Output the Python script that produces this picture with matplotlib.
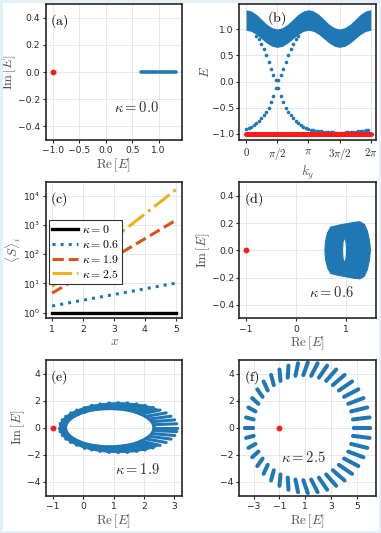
import matplotlib
matplotlib.use("Agg")
import matplotlib.pyplot as plt
from matplotlib.path import Path
from matplotlib.patches import PathPatch, Rectangle
from matplotlib.font_manager import FontProperties
from matplotlib.ticker import NullLocator

# ---- data ----
# (a) kappa = 0 spectrum
a_red_re = [-1.0]
a_red_im = [0.0]
a_band_re = [0.66, 1.32]
a_band_im = [0.0, 0.0]

# (b) E vs k_y : bulk band edges
b_k = [0.000, 0.262, 0.524, 0.785, 1.047, 1.309, 1.571, 1.833, 2.094, 2.356, 2.618, 2.880, 3.142,
       3.403, 3.665, 3.927, 4.189, 4.451, 4.712, 4.974, 5.236, 5.498, 5.760, 6.021, 6.283]
b_top = [1.38, 1.355, 1.29, 1.195, 1.10, 1.035, 1.01, 1.035, 1.10, 1.195, 1.29, 1.355, 1.38,
         1.355, 1.29, 1.195, 1.10, 1.035, 1.01, 1.035, 1.10, 1.195, 1.29, 1.355, 1.38]
b_bot = [0.985, 0.963, 0.905, 0.82, 0.737, 0.677, 0.655, 0.677, 0.737, 0.82, 0.905, 0.963, 0.985,
         0.963, 0.905, 0.82, 0.737, 0.677, 0.655, 0.677, 0.737, 0.82, 0.905, 0.963, 0.985]
# edge states
b_edge_k1 = [0.000, 0.126, 0.251, 0.377, 0.503, 0.628, 0.754, 0.880, 1.005, 1.131, 1.257, 1.382, 1.508]
b_edge_E1 = [-0.92, -0.90, -0.87, -0.84, -0.80, -0.76, -0.71, -0.65, -0.58, -0.50, -0.40, -0.28, -0.13]
b_edge_k2 = [0.503, 0.628, 0.754, 0.880, 1.005, 1.131, 1.257, 1.382, 1.508]
b_edge_E2 = [0.88, 0.81, 0.72, 0.62, 0.50, 0.37, 0.24, 0.12, 0.03]
b_edge_k3 = [1.634, 1.759, 1.885, 2.011, 2.136, 2.262, 2.388, 2.513, 2.639, 2.765, 2.890, 3.016, 3.142]
b_edge_E3 = [-0.13, -0.28, -0.40, -0.50, -0.58, -0.65, -0.71, -0.76, -0.80, -0.84, -0.87, -0.90, -0.92]
b_edge_k4 = [1.634, 1.759, 1.885, 2.011, 2.136, 2.262, 2.388, 2.513, 2.639]
b_edge_E4 = [0.03, 0.12, 0.24, 0.37, 0.50, 0.62, 0.72, 0.81, 0.88]
b_edge_k5 = [3.267, 3.393, 3.519, 3.644, 3.770, 3.896, 4.021, 4.147, 4.273, 4.398, 4.524, 4.650,
             4.775, 4.901, 5.027, 5.152, 5.278, 5.404, 5.529, 5.655, 5.781, 5.906, 6.032, 6.158]
b_edge_E5 = [-0.93, -0.94, -0.95, -0.955, -0.96, -0.965, -0.97, -0.975, -0.98, -0.98, -0.985, -0.985,
             -0.985, -0.985, -0.98, -0.98, -0.975, -0.97, -0.965, -0.96, -0.955, -0.95, -0.94, -0.93]
b_red_k = [0.0, 6.283]
b_red_E = [-1.0, -1.0]

# (c) <S>_i vs x
c_x = [1, 2, 3, 4, 5]
c_kappa0 = [1, 1, 1, 1, 1]
c_kappa06 = [1.7, 2.7, 4.2, 6.6, 10.3]
c_kappa19 = [4.7, 19.5, 80, 340, 1450]
c_kappa25 = [7.9, 53, 355, 2380, 16000]

# (d) kappa = 0.6 spectrum outline and its hole
d_outer_re = [0.69, 0.85, 1.00, 1.15, 1.27, 1.36, 1.42, 1.46, 1.48, 1.46, 1.42, 1.36, 1.27, 1.15,
              1.00, 0.85, 0.69, 0.63, 0.59, 0.575, 0.59, 0.63]
d_outer_im = [0.17, 0.185, 0.195, 0.205, 0.21, 0.19, 0.14, 0.07, 0.0, -0.07, -0.14, -0.19, -0.21, -0.205,
              -0.195, -0.185, -0.17, -0.13, -0.07, 0.0, 0.07, 0.13]
d_hole_re = [0.965, 0.935, 0.925, 0.935, 0.965, 0.995, 1.005, 0.995]
d_hole_im = [0.095, 0.06, 0.0, -0.06, -0.095, -0.06, 0.0, 0.06]

# (e) kappa = 1.9 : stripes (upper half, mirrored about Im E = 0)
e_in_re = [2.33, 2.31, 2.26, 2.17, 2.05, 1.90, 1.73, 1.54, 1.33, 1.10, 0.875, 0.65, 0.43, 0.21,
           0.02, -0.15, -0.30, -0.42, -0.51, -0.56, -0.58]
e_in_im = [0, 0.22, 0.44, 0.64, 0.83, 1.00, 1.15, 1.27, 1.35, 1.40, 1.42, 1.40, 1.35, 1.27,
           1.15, 1.00, 0.83, 0.64, 0.44, 0.22, 0]
e_out_re = [3.10, 3.08, 3.01, 2.89, 2.73, 2.53, 2.30, 2.04, 1.76, 1.46, 1.16, 0.86, 0.56, 0.28,
            0.02, -0.21, -0.41, -0.57, -0.69, -0.76, -0.78]
e_out_im = [0, 0.29, 0.58, 0.85, 1.10, 1.31, 1.51, 1.66, 1.77, 1.84, 1.86, 1.84, 1.77, 1.66,
            1.51, 1.31, 1.10, 0.85, 0.58, 0.29, 0]
# from this stripe on the band is closed (no gaps between stripes)
e_solid_from = 5

# (f) kappa = 2.5 : stripes (upper half, mirrored about Im E = 0)
f_in_re = [4.75, 4.70, 4.56, 4.33, 4.01, 3.61, 3.14, 2.62, 2.06, 1.46, 0.85, 0.24, -0.36, -0.92,
           -1.44, -1.91, -2.31, -2.63, -2.86, -3.00, -3.05]
f_in_im = [0, 0.61, 1.21, 1.77, 2.29, 2.76, 3.16, 3.47, 3.71, 3.85, 3.9, 3.85, 3.71, 3.47,
           3.16, 2.76, 2.29, 1.77, 1.21, 0.61, 0]
f_out_re = [6.05, 5.99, 5.81, 5.52, 5.12, 4.63, 4.05, 3.40, 2.70, 1.96, 1.2, 0.44, -0.30, -1.00,
            -1.65, -2.23, -2.72, -3.12, -3.41, -3.59, -3.65]
f_out_im = [0, 0.76, 1.50, 2.20, 2.85, 3.43, 3.92, 4.32, 4.61, 4.79, 4.85, 4.79, 4.61, 4.32,
            3.92, 3.43, 2.85, 2.20, 1.50, 0.76, 0]

# ---- style ----
BLUE = "#1f77b4"
RED = "#ff1a1a"
LABEL_COL = "#555555"

plt.rcParams.update({
    "font.family": "DejaVu Sans",
    "font.size": 6.6,
    "mathtext.fontset": "dejavusans",
    "axes.edgecolor": "#262626",
    "axes.linewidth": 1.2,
    "xtick.labelsize": 6.6,
    "ytick.labelsize": 6.6,
    "xtick.color": "#262626",
    "ytick.color": "#262626",
    "xtick.major.size": 2.5,
    "ytick.major.size": 2.5,
    "xtick.major.pad": 2,
    "ytick.major.pad": 1.5,
})

fig = plt.figure(figsize=(3.81, 5.33), dpi=100)
fig.patches.append(Rectangle((0, 0), 1, 1, transform=fig.transFigure, fill=False,
                             edgecolor="#e3f0f8", lw=3.5))

cols = [0.1207, 0.6286]
rows = [0.7373, 0.4028, 0.0700]
W, H = 0.357, 0.2552


def make_ax(c, r):
    ax = fig.add_axes([cols[c], rows[r], W, H])
    ax.grid(True, color="#e8e8e8", lw=0.7)
    ax.set_axisbelow(True)
    return ax


def labels(ax, xl=None, yl=None):
    if xl:
        ax.set_xlabel(xl, fontsize=9.5, color=LABEL_COL, math_fontfamily="cm", labelpad=1)
    if yl:
        ax.set_ylabel(yl, fontsize=9.5, color=LABEL_COL, math_fontfamily="cm", labelpad=0)


def tag(ax, s, x=0.03, y=0.875):
    ax.text(x, y, s, transform=ax.transAxes, fontsize=10, math_fontfamily="cm",
            ha="left", va="center", color="black")


def kappa(ax, s, x, y):
    ax.text(x, y, s, transform=ax.transAxes, fontsize=10.5, math_fontfamily="cm",
            ha="center", va="center", color="#333333")


def stripes(ax, in_re, in_im, out_re, out_im, lw):
    # spectrum is symmetric about the real axis: draw each stripe and its mirror
    for x0, y0, x1, y1 in zip(in_re, in_im, out_re, out_im):
        for s in (1, -1):
            ax.plot([x0, x1], [s * y0, s * y1], color=BLUE, lw=lw, solid_capstyle="round")


RE = r"$\mathrm{Re}\,[E]$"
IM = r"$\mathrm{Im}\,[E]$"

# (a)
ax = make_ax(0, 0)
ax.plot(a_band_re, a_band_im, color=BLUE, lw=2.6, solid_capstyle="round")
ax.plot(a_red_re, a_red_im, "o", color=RED, ms=3.2)
ax.set_xlim(-1.125, 1.44)
ax.set_ylim(-0.5, 0.5)
ax.set_xticks([-1.0, -0.5, 0.0, 0.5, 1.0])
ax.set_yticks([-0.4, -0.2, 0.0, 0.2, 0.4])
ax.xaxis.set_major_formatter("{x:.1f}")
ax.yaxis.set_major_formatter("{x:.1f}")
labels(ax, RE, IM)
tag(ax, r"$\mathrm{(a)}$")
kappa(ax, r"$\kappa = 0.0$", 0.667, 0.24)

# (b)
ax = make_ax(1, 0)
ax.fill_between(b_k, b_bot, b_top, color=BLUE, lw=0)
for k, E in [(b_edge_k1, b_edge_E1), (b_edge_k2, b_edge_E2), (b_edge_k3, b_edge_E3),
             (b_edge_k4, b_edge_E4), (b_edge_k5, b_edge_E5)]:
    ax.plot(k, E, "o", color=BLUE, ms=2.6, mew=0)
ax.plot(b_red_k, b_red_E, color=RED, lw=3.6, solid_capstyle="round")
ax.set_xlim(-0.33, 6.52)
ax.set_ylim(-1.125, 1.49)
ax.set_xticks([0, 1.5708, 3.1416, 4.7124, 6.2832],
              [r"$0$", r"$\pi/2$", r"$\pi$", r"$3\pi/2$", r"$2\pi$"],
              math_fontfamily="cm", fontsize=7.8)
ax.set_yticks([-1.0, -0.5, 0.0, 0.5, 1.0])
ax.yaxis.set_major_formatter("{x:.1f}")
labels(ax, r"$k_y$", r"$E$")
tag(ax, r"$\mathrm{(b)}$", 0.2, 0.895)

# (c)
ax = make_ax(0, 1)
ax.plot(c_x, c_kappa0, color="black", lw=2.4, label=r"$\kappa = 0$")
ax.plot(c_x, c_kappa06, ":", color=BLUE, lw=2.2, label=r"$\kappa = 0.6$")
ax.plot(c_x, c_kappa19, "--", color="#d95319", lw=2.2, label=r"$\kappa = 1.9$")
ax.plot(c_x, c_kappa25, "-.", color="#edb120", lw=2.2, label=r"$\kappa = 2.5$")
ax.set_yscale("log")
ax.yaxis.set_minor_locator(NullLocator())
ax.set_xlim(0.8, 5.2)
ax.set_ylim(0.646, 28800)
ax.set_xticks([1, 2, 3, 4, 5])
ax.set_yticks([1, 10, 100, 1000, 10000])
labels(ax, r"$x$", r"$\langle S\rangle_i$")
tag(ax, r"$\mathrm{(c)}$")
leg = ax.legend(loc="upper left", bbox_to_anchor=(0.02, 0.725),
                prop=FontProperties(size=8.5, math_fontfamily="cm"),
                frameon=True, fancybox=False, framealpha=1, edgecolor="#333333",
                borderpad=0.3, labelspacing=0.15, handlelength=2.2, handletextpad=0.3,
                borderaxespad=0)
leg.get_frame().set_linewidth(0.8)

# (d)
ax = make_ax(1, 1)
outer = list(zip(d_outer_re, d_outer_im))
hole = list(zip(d_hole_re, d_hole_im))
verts = outer + [outer[0]] + hole + [hole[0]]
codes = ([Path.MOVETO] + [Path.LINETO] * (len(outer) - 1) + [Path.CLOSEPOLY]
         + [Path.MOVETO] + [Path.LINETO] * (len(hole) - 1) + [Path.CLOSEPOLY])
ax.add_patch(PathPatch(Path(verts, codes), facecolor=BLUE, edgecolor=BLUE, lw=0.8))
ax.plot([-1.0], [0.0], "o", color=RED, ms=3.2)
ax.set_xlim(-1.12, 1.58)
ax.set_ylim(-0.5, 0.5)
ax.set_xticks([-1, 0, 1])
ax.set_yticks([-0.4, -0.2, 0.0, 0.2, 0.4])
ax.yaxis.set_major_formatter("{x:.1f}")
labels(ax, RE, IM)
tag(ax, r"$\mathrm{(d)}$")
kappa(ax, r"$\kappa = 0.6$", 0.676, 0.19)

# (e)
ax = make_ax(0, 2)
# inner rim of the ellipse is continuous, the band is closed away from the right end
ax.plot(e_in_re, e_in_im, color=BLUE, lw=2.2)
ax.plot(e_in_re, [-v for v in e_in_im], color=BLUE, lw=2.2)
i0 = e_solid_from
for s in (1, -1):
    ax.fill(e_out_re[i0:] + e_in_re[i0:][::-1],
            [s * v for v in e_out_im[i0:] + e_in_im[i0:][::-1]],
            color=BLUE, lw=0.6)
stripes(ax, e_in_re, e_in_im, e_out_re, e_out_im, 2.2)
ax.plot([-1.0], [0.0], "o", color=RED, ms=3.2)
ax.set_xlim(-1.22, 3.25)
ax.set_ylim(-5.05, 5.05)
ax.set_xticks([-1, 0, 1, 2, 3])
ax.set_yticks([-4, -2, 0, 2, 4])
labels(ax, RE, IM)
tag(ax, r"$\mathrm{(e)}$")
kappa(ax, r"$\kappa = 1.9$", 0.671, 0.195)

# (f)
ax = make_ax(1, 2)
stripes(ax, f_in_re, f_in_im, f_out_re, f_out_im, 2.9)
ax.plot([-1.0], [0.0], "o", color=RED, ms=3.2)
ax.set_xlim(-4.1, 6.45)
ax.set_ylim(-5.05, 5.05)
ax.set_xticks([-3, -1, 1, 3, 5])
ax.set_yticks([-4, -2, 0, 2, 4])
labels(ax, RE)
tag(ax, r"$\mathrm{(f)}$")
kappa(ax, r"$\kappa = 2.5$", 0.47, 0.28)

fig.savefig("out.png", dpi=100)
